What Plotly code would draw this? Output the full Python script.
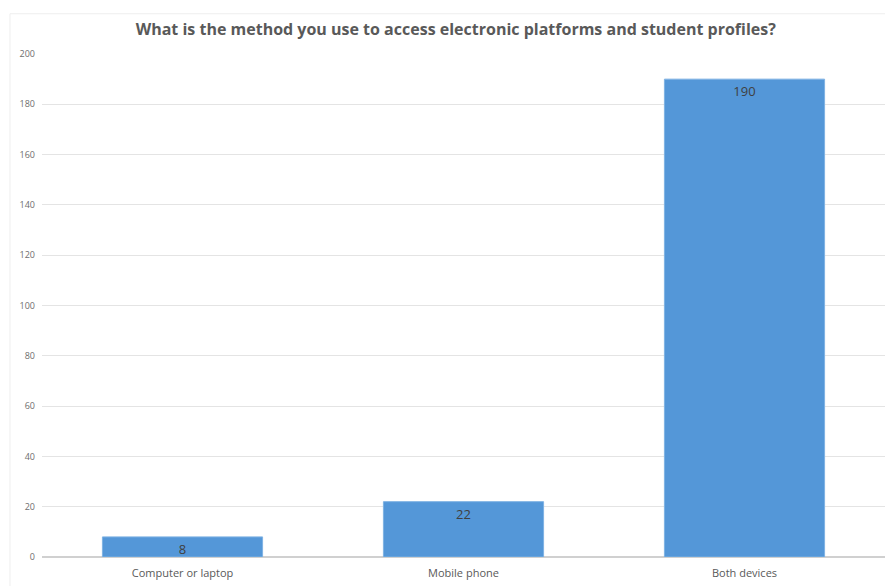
import plotly.graph_objects as go

categories = ["Computer or laptop", "Mobile phone", "Both devices"]
values = [8, 22, 190]
y_ticks = [0, 20, 40, 60, 80, 100, 120, 140, 160, 180, 200]

fig = go.Figure(go.Bar(
    x=categories, y=values,
    text=[str(v) for v in values],
    textposition="inside", insidetextanchor="end",
    textangle=0, constraintext="none",
    textfont=dict(size=13, color="#404040", family="Open Sans"),
    marker=dict(color="#5497d8", line=dict(color="#7fb2e3", width=1)),
    width=0.57,
))

fig.update_layout(
    width=885, height=586,
    margin=dict(l=42, r=0, t=54, b=29),
    paper_bgcolor="white", plot_bgcolor="white",
    title=dict(text="<b>What is the method you use to access electronic platforms and student profiles?</b>",
               x=0.515, xanchor="center", y=0.95, yanchor="middle",
               font=dict(size=16, color="#595959", family="Open Sans")),
    showlegend=False,
    font=dict(family="Open Sans", color="#595959"),
)
fig.update_yaxes(range=[0, 200], tickvals=y_ticks, showgrid=True, gridcolor="#e4e4e4",
                 zeroline=True, zerolinecolor="#d0d0d0", tickfont=dict(size=9, color="#6e6e6e"),
                 ticks="", ticklabelstandoff=6)
fig.update_xaxes(tickfont=dict(size=11, color="#595959"), showline=False, ticks="",
                 ticklabelstandoff=8)
fig.add_shape(type="rect", xref="paper", yref="paper", x0=-0.038, x1=1.01, y0=-0.06, y1=1.08,
              line=dict(color="#eeeeee", width=1), layer="below")

fig.write_html("out.html")
